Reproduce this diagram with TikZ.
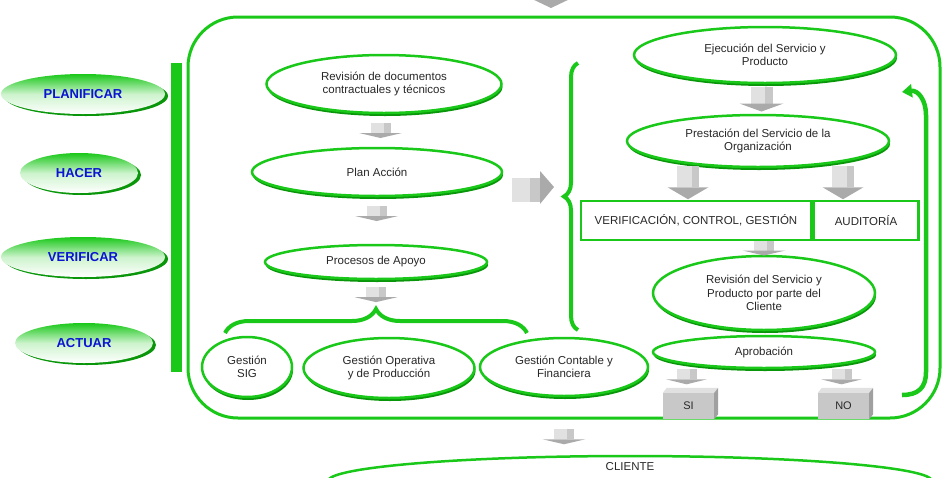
\documentclass[tikz,border=0pt]{standalone}
\usepackage{fontspec}
\setmainfont{Liberation Sans}
\usetikzlibrary{calc,positioning,shapes.geometric,decorations.pathreplacing,arrows.meta,shadows}

\definecolor{pdcagreen}{RGB}{25,200,25}
\definecolor{deepgreen}{RGB}{10,150,10}
\definecolor{phaseblue}{RGB}{10,20,210}
\definecolor{labelgray}{RGB}{40,40,40}
\definecolor{blockgray}{RGB}{200,200,200}

% gray block arrow pointing down: centre, body width, body height, head width, head height
\def\blockdown#1(#2:#3:#4:#5){%
	\begin{scope}[shift={#1}]
		\fill[blockgray] ({-#2/2},{-(#3+#5)/2}) rectangle ({#2/2},{(#3-#5)/2});
		\fill[blockgray!55!white] ({-#2/2},{-(#3+#5)/2}) rectangle ({#2/6},{(#3-#5)/2});
		\fill[blockgray!85!black] ({-#4/2},{(#3-#5)/2}) -- ({#4/2},{(#3-#5)/2}) -- (0,{(#3+#5)/2}) -- cycle;
	\end{scope}}

\begin{document}
\begin{tikzpicture}[x=1pt, y=-1pt,
	oval/.style={ellipse, draw=pdcagreen, line width=2.5pt, fill=white, inner sep=0pt, align=center,
		text=labelgray, font=\fontsize{11.5}{13.5}\selectfont,
		drop shadow={shadow xshift=1pt, shadow yshift=-3pt, fill=deepgreen, opacity=1}},
	phase/.style={ellipse, inner sep=0pt, top color=pdcagreen, bottom color=white, middle color=pdcagreen!22!white,
		text=phaseblue, font=\bfseries\fontsize{13}{15}\selectfont,
		drop shadow={shadow xshift=3pt, shadow yshift=-2pt, fill=deepgreen, opacity=1}},
	stepbox/.style={rectangle, draw=pdcagreen, line width=2.5pt, fill=white, inner sep=0pt,
		text=labelgray, font=\fontsize{11.5}{13.5}\selectfont, minimum height=39pt},
	answer/.style={rectangle, fill=blockgray, inner sep=0pt, minimum width=51pt, minimum height=26pt,
		text=labelgray, font=\fontsize{11}{13}\selectfont},
	greenbrace/.style={decorate, draw=pdcagreen, line width=4pt},
	returnarrow/.style={draw=pdcagreen, line width=4.5pt, -{Triangle[length=10pt,width=13pt]}},
]
	\useasboundingbox (0,0) rectangle (948,477);
	\clip (0,0) rectangle (948,477);

	%%%%% PHVA column %%%%%
	\node[phase, minimum width=164pt, minimum height=40pt] (planificar) at (83,94) {PLANIFICAR};
	\node[phase, minimum width=118pt, minimum height=40pt] (hacer) at (79,173) {HACER};
	\node[phase, minimum width=164pt, minimum height=40pt] (verificar) at (83,257) {VERIFICAR};
	\node[phase, minimum width=138pt, minimum height=40pt] (actuar) at (84,343) {ACTUAR};
	\fill[pdcagreen] (171,63) rectangle (182,372);

	%%%%% frame %%%%%
	\draw[line width=3pt, draw=pdcagreen, rounded corners=50pt] (188,17) rectangle (940,418);
	\blockdown{(551,-4)}(22:14:42:10)

	%%%%% planning side %%%%%
	\node[oval, minimum width=235pt, minimum height=58pt] (rev) at (384,84) {Revisión de documentos\\contractuales y técnicos};
	\node[oval, minimum width=250pt, minimum height=48pt] (plan) at (377,172) {Plan Acción};
	\node[oval, minimum width=222pt, minimum height=34pt] (apoyo) at (376,262) {Procesos de Apoyo};
	\blockdown{($(rev.south)!.5!(plan.north)$)}(20:10:43:5)
	\blockdown{($(plan.south)!.35!(apoyo.north)$)}(20:10:43:5)

	\draw[greenbrace, decoration={brace, amplitude=24pt}] (225,333) -- (527,333);
	\coordinate (supporttip) at (376,309);
	\blockdown{($(apoyo.south)!.5!(supporttip)$)}(20:10:43:5)

	\node[oval, minimum width=90pt, minimum height=60pt] (sig) at (247,367) {Gestión\\SIG};
	\node[oval, minimum width=171pt, minimum height=60pt] (oper) at (389,368) {Gestión Operativa\\y de Producción};
	\node[oval, minimum width=168pt, minimum height=58pt] (cont) at (564,367) {Gestión Contable y\\Financiera};

	% feed arrow into the execution side
	\fill[blockgray] (512,178) rectangle (541,202);
	\fill[blockgray!55!white] (512,178) rectangle (530,202);
	\fill[blockgray!85!black] (540,171) -- (554,187) -- (540,204) -- cycle;
	\draw[greenbrace, decoration={brace, amplitude=14pt}] (578,330) -- (578,63);

	%%%%% execution side %%%%%
	\node[oval, minimum width=262pt, minimum height=56pt] (ejec) at (765,55) {Ejecución del Servicio y\\Producto};
	\node[oval, minimum width=262pt, minimum height=52pt] (prest) at (758,141) {Prestación del Servicio de la\\Organización};
	\blockdown{($(ejec.south)!.5!(prest.north)$)}(22:17:44:8)

	\node[stepbox, minimum width=230pt] (verif) at (696,220.5) {VERIFICACIÓN, CONTROL, GESTIÓN};
	\node[stepbox, minimum width=105pt, right=0pt of verif] (audit) {AUDITORÍA};
	\blockdown{($(verif.north)+(-8,-17)$)}(22:21:41:12)
	\blockdown{($(audit.north)+(-23,-17)$)}(22:21:41:12)

	\node[oval, minimum width=222pt, minimum height=74pt] (revcli) at (764,293) {Revisión del Servicio y\\Producto por parte del\\Cliente};
	\blockdown{($(verif.south -| revcli.north)!.5!(revcli.north)$)}(20:10:43:5)
	\node[oval, minimum width=222pt, minimum height=32pt] (aprob) at (764,352) {Aprobación};

	\node[answer] (si) at (688.5,406) {SI};
	\node[answer] (no) at (843.5,406) {NO};
	\foreach \b in {si,no} {
		\fill[blockgray!55!white] (\b.north west) -- ++(4,-5) -- ($(\b.north east)+(4,-5)$) -- (\b.north east) -- cycle;
		\fill[blockgray!80!black] (\b.north east) -- ++(4,-5) -- ($(\b.south east)+(4,-5)$) -- (\b.south east) -- cycle;
	}
	\blockdown{($(si.north)+(-2,-16)$)}(20:10:41:5)
	\blockdown{($(no.north)+(-2,-16)$)}(20:10:41:5)

	% back to execution when not approved
	\draw[returnarrow] (902,395) .. controls (918,395) and (926,388) .. (926,372) -- (926,115) .. controls (926,100) and (918,90) .. (902,92);

	%%%%% customer %%%%%
	\node[oval, minimum width=604pt, minimum height=50pt] (cliente) at (630,481) {};
	\node[text=labelgray, font=\fontsize{11.5}{13.5}\selectfont] (clientename) at ($(cliente.center)+(0,-14)$) {CLIENTE};
	\blockdown{($(cont.south |- cliente.north)+(0,-18)$)}(20:10:43:5)
\end{tikzpicture}
\end{document}
